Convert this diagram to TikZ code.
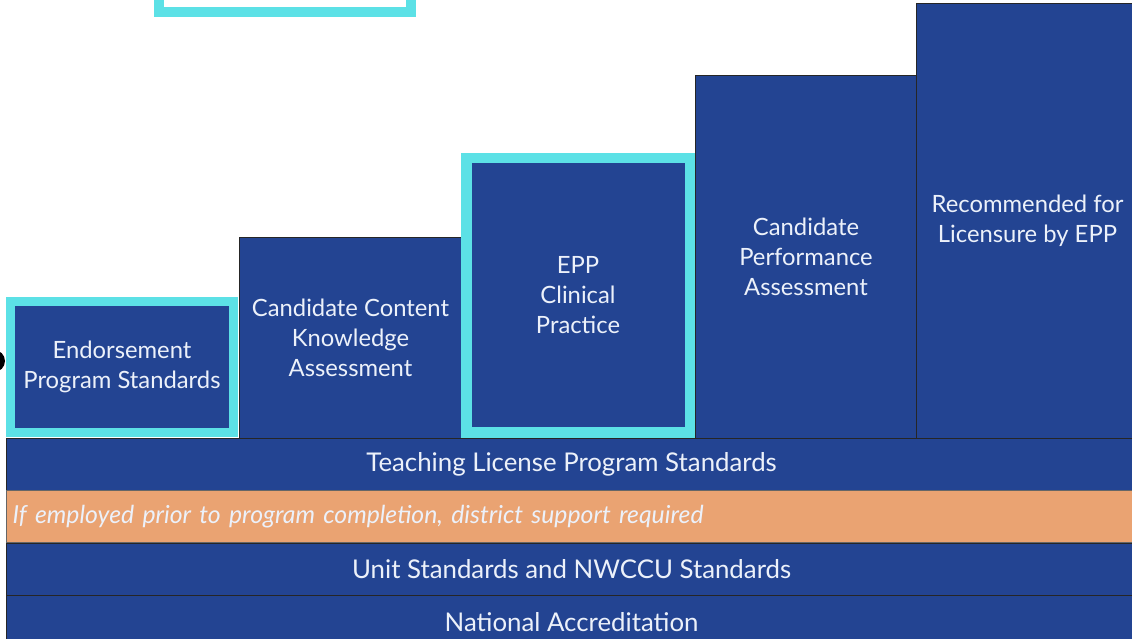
\documentclass[tikz,border=0pt]{standalone}
\usepackage{fontspec}
\setmainfont{Lato}
\usetikzlibrary{positioning}
\definecolor{navy}{RGB}{35,68,146}
\definecolor{turq}{RGB}{92,225,230}
\definecolor{peach}{RGB}{234,163,114}
\definecolor{paper}{RGB}{236,241,250}

\begin{document}
\begin{tikzpicture}[x=1pt,y=-1pt,font=\fontsize{23.8}{30}\selectfont,
  step node/.style={rectangle,draw=black!85,line width=1pt,fill=navy,text=paper,align=center,inner sep=0pt,anchor=north west},
  ring node/.style={step node,draw=turq,line width=10pt},
  bar node/.style={rectangle,draw=black!85,line width=1.2pt,fill=navy,text=paper,inner sep=0pt,anchor=north west,minimum width=1130pt,minimum height=52pt,font=\fontsize{25.8}{30}\selectfont}]
  \useasboundingbox (0,0) rectangle (1132,639);
  \clip (0,0) rectangle (1132,639);
  % steps, left to right
  \node[ring node,fill=white,minimum width=252pt,minimum height=70pt] (top) at (154,-63) {};
  \node[ring node,line width=9pt,minimum width=223pt,minimum height=131pt] (endorse) at (6,297) {Endorsement\\Program Standards};
  \node[step node,minimum width=222pt,minimum height=201pt] (content) at (239,237) {Candidate Content\\Knowledge\\Assessment};
  \node[ring node,line width=10.5pt,minimum width=223.5pt,minimum height=274pt] (clinical) at (461,153) {EPP\\Clinical\\Practice};
  \node[step node,minimum width=221pt,minimum height=363pt] (perform) at (695,75) {Candidate\\Performance\\Assessment};
  \node[step node,minimum width=222pt,minimum height=435pt] (recommend) at (916,3) {Recommended for\\Licensure by EPP};
  % foundation bars
  \foreach \n/\y/\t in {license/438/Teaching License Program Standards, unit/543/Unit Standards and NWCCU Standards, accred/595/National Accreditation}
    \node[bar node] (\n) at (6,\y) {\t};
  \node[bar node,fill=peach,draw=black!60,text width=1118pt,inner xsep=6pt,align=left,font=\fontsize{24.8}{30}\selectfont\itshape] (employ) at (6,490) {If employed prior to program completion, district support required};
  \node[circle,fill=black,inner sep=0pt,minimum size=22pt] (dot) at (-6,361) {};
\end{tikzpicture}
\end{document}
